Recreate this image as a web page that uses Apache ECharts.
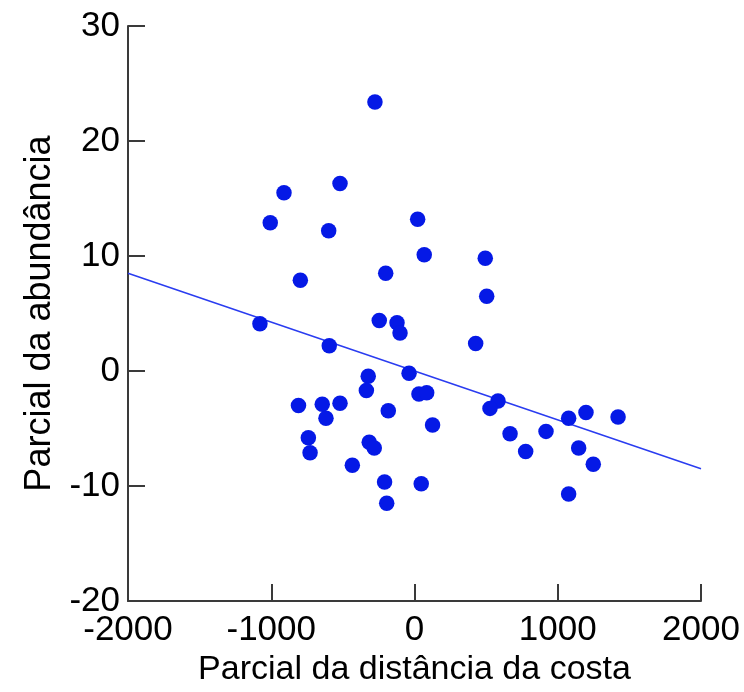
<!DOCTYPE html>
<html>
<head>
<meta charset="utf-8">
<script src="https://cdn.jsdelivr.net/npm/echarts@6/dist/echarts.min.js"></script>
<style>
  html, body { margin: 0; padding: 0; background: #fff; }
  #chart { width: 744px; height: 692px; }
</style>
</head>
<body>
<div id="chart"></div>
<script>
// Partial residuals: distance from the coast (x) vs. abundance (y)
const distX = [
  -276, -911, -520, -1007, -599, 22, 68, 494, 504, -797,
  -201, -1079, -246, -122, -101, 427, -595, -323, -336, -38,
  31, 85, -810, -644, -520, -618, -183, 126, -741, -729,
  -316, -281, -434, -209, -194, 47, 583, 527, 667, 918,
  776, 1076, 1197, 1421, 1146, 1248, 1076
];
const abundY = [
  23.4, 15.5, 16.3, 12.9, 12.2, 13.2, 10.1, 9.8, 6.5, 7.9,
  8.5, 4.1, 4.4, 4.2, 3.3, 2.4, 2.2, -0.45, -1.7, -0.2,
  -2.0, -1.9, -3.0, -2.9, -2.8, -4.1, -3.45, -4.7, -5.8, -7.1,
  -6.2, -6.7, -8.2, -9.65, -11.5, -9.8, -2.6, -3.25, -5.45, -5.25,
  -7.0, -4.1, -3.6, -4.0, -6.7, -8.1, -10.7
];

// Fitted regression line end points
const fitX = [-2000, 2000];
const fitY = [8.5, -8.5];

const xTicks = { min: -2000, max: 2000, step: 1000 };
const yTicks = { min: -20, max: 30, step: 10 };

const xTitle = 'Parcial da distância da costa';
const yTitle = 'Parcial da abundância';

const points = distX.map((x, i) => [x, abundY[i]]);
const fitLine = fitX.map((x, i) => [x, fitY[i]]);

const font = '"Liberation Sans", Arial, sans-serif';
const axisColor = '#3a3a3a';
const plain = (v) => String(v);

const chart = echarts.init(document.getElementById('chart'), null, { renderer: 'canvas' });
chart.setOption({
  animation: false,
  backgroundColor: '#ffffff',
  grid: { left: 128, right: 43, top: 26, bottom: 91, containLabel: false },
  xAxis: {
    type: 'value',
    min: xTicks.min, max: xTicks.max, interval: xTicks.step,
    name: xTitle,
    nameLocation: 'middle',
    nameGap: 50,
    nameTextStyle: { fontFamily: font, fontSize: 34, color: '#000' },
    axisLine: { show: true, onZero: false, lineStyle: { color: axisColor, width: 2 } },
    axisTick: { show: true, inside: true, length: 17, lineStyle: { color: axisColor, width: 2 } },
    axisLabel: { fontFamily: font, fontSize: 35, color: '#000', margin: 12, formatter: plain },
    splitLine: { show: false }
  },
  yAxis: {
    type: 'value',
    min: yTicks.min, max: yTicks.max, interval: yTicks.step,
    name: yTitle,
    nameLocation: 'middle',
    nameGap: 70,
    nameRotate: 90,
    nameTextStyle: { fontFamily: font, fontSize: 36, color: '#000' },
    axisLine: { show: true, onZero: false, lineStyle: { color: axisColor, width: 2 } },
    axisTick: { show: true, inside: true, length: 17, lineStyle: { color: axisColor, width: 2 } },
    axisLabel: { fontFamily: font, fontSize: 35, color: '#000', margin: 8, formatter: plain },
    splitLine: { show: false }
  },
  series: [
    {
      type: 'line',
      data: fitLine,
      showSymbol: false,
      lineStyle: { color: '#2a3cf0', width: 1.5 },
      z: 1
    },
    {
      type: 'scatter',
      data: points,
      symbol: 'circle',
      symbolSize: 15.5,
      itemStyle: { color: '#0519e6', opacity: 1 },
      z: 2
    }
  ]
});
</script>
</body>
</html>
